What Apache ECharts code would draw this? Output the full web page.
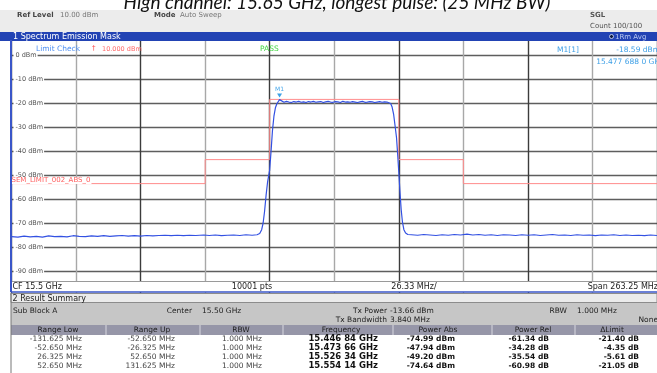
<!DOCTYPE html>
<html>
<head>
<meta charset="utf-8">
<script src="https://cdn.jsdelivr.net/npm/echarts@6/dist/echarts.min.js"></script>
<style>
  html, body { margin: 0; padding: 0; background: #fff; }
  #chart { width: 657px; height: 373px; }
</style>
</head>
<body>
<div id="chart"></div>
<script>
// Spectrum emission mask measurement: trace, limit mask and result summary.
const centerGHz = 15.5;
const spanMHz = 263.25;

// Measured trace, frequency offset from centre [MHz, dBm]
const traceLowerNoise = [
  [-131.6,-75.7],[-129,-75.9],[-126.5,-75.5],[-124,-75.8],[-121.5,-75.6],[-119,-75.9],
  [-116.5,-75.4],[-114,-75.7],[-111.5,-75.6],[-109,-75.8],[-106.5,-75.3],[-104,-75.6],
  [-101.5,-75.7],[-99,-75.4],[-96.5,-75.6],[-94,-75.3],[-91.5,-75.6],[-89,-75.4],
  [-86.5,-75.2],[-84,-75.5],[-81.5,-75.3],[-79,-75.5],[-76.5,-75.2],[-74,-75.4],
  [-71.5,-75.2],[-69,-75.1],[-66.5,-75.3],[-64,-75.1],[-61.5,-75.3],[-59,-75.1],
  [-56.5,-75.2],[-53.16,-74.99],[-51,-75.2],[-48.5,-75.0],[-46,-75.3],[-43.5,-75.1],
  [-41,-75.0],[-38.5,-75.2],[-36,-74.9],[-33.5,-75.1],[-31.5,-74.9],[-30.4,-74.4]
];
const traceCarrier = [
  [-29.6,-72.8],[-29.0,-70.0],[-28.4,-65.0],[-27.8,-58.5],[-27.2,-53.0],[-26.34,-47.94],
  [-25.8,-40.5],[-25.2,-31.5],[-24.6,-25.5],[-24.0,-22.0],[-23.4,-20.3],[-22.9,-19.6],
  [-22.31,-18.59],
  [-21.5,-19.4],[-20.5,-19.7],[-19.5,-19.3],[-18.5,-19.6],[-17.5,-19.8],[-16.5,-19.4],
  [-15.5,-19.6],[-14.5,-19.3],[-13.5,-19.7],[-12.5,-19.5],[-11.5,-19.8],[-10.5,-19.4],
  [-9.5,-19.6],[-8.5,-19.3],[-7.5,-19.7],[-6.5,-19.5],[-5.5,-19.4],[-4.5,-19.8],
  [-3.5,-19.5],[-2.5,-19.3],[-1.5,-19.6],[-0.5,-19.7],[0.5,-19.4],[1.5,-19.5],
  [2.5,-19.8],[3.5,-19.3],[4.5,-19.6],[5.5,-19.5],[6.5,-19.7],[7.5,-19.4],
  [8.5,-19.6],[9.5,-19.8],[10.5,-19.5],[11.5,-19.3],[12.5,-19.7],[13.5,-19.6],
  [14.5,-19.4],[15.5,-19.5],[16.5,-19.8],[17.5,-19.6],[18.5,-19.4],[19.5,-19.7],
  [20.5,-19.5],[21.5,-19.6],[22.3,-19.8],
  [23.0,-20.2],[23.6,-21.7],[24.2,-24.6],[24.8,-29.5],[25.4,-34.5],[25.9,-42.0],
  [26.34,-49.20],[26.8,-57.0],[27.3,-64.5],[27.8,-69.5],[28.4,-72.8],[29.1,-74.2],
  [30.0,-74.8]
];
const traceUpperNoise = [
  [31.5,-74.9],[34,-75.1],[36.5,-74.8],[39,-75.0],[41.5,-75.2],[44,-74.9],
  [46.5,-75.1],[49,-74.8],[51.5,-75.0],[54.14,-74.64],[56.5,-75.0],[59,-74.8],
  [61.5,-75.1],[64,-74.9],[66.5,-75.2],[69,-74.9],[71.5,-75.0],[74,-75.2],
  [76.5,-74.9],[79,-75.1],[81.5,-74.9],[84,-75.2],[86.5,-75.0],[89,-74.8],
  [91.5,-75.1],[94,-75.0],[96.5,-75.2],[99,-74.9],[101.5,-75.1],[104,-75.0],
  [106.5,-75.3],[109,-75.0],[111.5,-75.1],[114,-74.9],[116.5,-75.2],[119,-75.0],
  [121.5,-75.2],[124,-75.1],[126.5,-75.3],[129,-75.0],[131.6,-75.2]
];

// Limit mask (SEM_LIMIT_002_ABS_0)
const limitMHz = [-131.625, -52.65, -52.65, -26.325, -26.325, 26.325, 26.325, 52.65, 52.65, 131.625];
const limitDbm = [-53.59, -53.59, -43.59, -43.59, -18.5, -18.5, -43.59, -43.59, -53.59, -53.59];

// Marker M1
const markerGHz = 15.477688;
const markerDbm = -18.59;

// Result summary
const rangeLowMHz = [-131.625, -52.650, 26.325, 52.650];
const rangeUpMHz = [-52.650, -26.325, 52.650, 131.625];
const rbwMHz = [1.000, 1.000, 1.000, 1.000];
const peakGHz = [15.44684, 15.47366, 15.52634, 15.55414];
const powerAbsDbm = [-74.99, -47.94, -49.20, -74.64];
const powerRelDb = [-61.34, -34.28, -35.54, -60.98];
const deltaLimitDb = [-21.40, -4.35, -5.61, -21.05];
const summaryHeads = ['Range Low', 'Range Up', 'RBW', 'Frequency', 'Power Abs', 'Power Rel', '\u0394Limit'];

const UI = '"DejaVu Sans", Verdana, sans-serif';
const trace = traceLowerNoise.concat(traceCarrier, traceUpperNoise);
const limit = limitMHz.map((f, i) => [f, limitDbm[i]]);
const markerMHz = (markerGHz - centerGHz) * 1000;
const halfSpan = spanMHz / 2;
const divMHz = spanMHz / 10;

function fmtGHz(v, digits) {
  const s = v.toFixed(digits);
  const head = s.slice(0, 6);
  const rest = s.slice(6);
  const groups = [];
  for (let i = 0; i < rest.length; i += 3) groups.push(rest.slice(i, i + 3));
  return [head].concat(groups).join(' ') + ' GHz';
}
// round half up (26.325 -> 26.33)
function fix2(v) { return (Math.round(v * 100 + 1e-6) / 100).toFixed(2); }

function T(x, y, text, st) {
  return {
    type: 'text', x: x, y: y, z: 100, silent: true,
    style: Object.assign({ text: text, font: '7px ' + UI, fill: '#333', align: 'left', verticalAlign: 'middle' }, st || {})
  };
}
function R(x, y, w, h, fill, stroke, lw) {
  return {
    type: 'rect', z: 99, silent: true, shape: { x: x, y: y, width: w, height: h },
    style: { fill: fill, stroke: stroke || null, lineWidth: lw || 1 }
  };
}
function L(x1, y1, x2, y2, stroke, lw) {
  return {
    type: 'line', z: 101, silent: true, shape: { x1: x1, y1: y1, x2: x2, y2: y2 },
    style: { stroke: stroke, lineWidth: lw || 1 }
  };
}

const g = [];
// Title
g.push(T(337, 2.5, 'High channel: 15.65 GHz, longest pulse: (25 MHz BW)',
  { font: 'italic 19px Lato, "Liberation Sans", sans-serif', fill: '#111', align: 'center' }));
// Instrument header
g.push(R(0, 10, 657, 22.5, '#ececec'));
g.push(T(17, 15, 'Ref Level', { font: 'bold 7px ' + UI, fill: '#444' }));
g.push(T(60, 15, '10.00 dBm', { fill: '#777' }));
g.push(T(154, 15, 'Mode', { font: 'bold 7px ' + UI, fill: '#444' }));
g.push(T(180, 15, 'Auto Sweep', { fill: '#777' }));
g.push(T(590, 15, 'SGL', { font: 'bold 7px ' + UI, fill: '#555' }));
g.push(T(590, 26.5, 'Count 100/100', { fill: '#555' }));
// Window title bar
g.push(R(0, 32, 657, 9, '#2243b4'));
g.push(T(13, 36.8, '1 Spectrum Emission Mask', { font: '8px ' + UI, fill: '#fff' }));
g.push({ type: 'circle', z: 101, silent: true, shape: { cx: 611.5, cy: 36.5, r: 2 }, style: { fill: '#0a1840', stroke: '#dde6ff', lineWidth: 0.8 } });
g.push(T(615, 36.8, '1Rm Avg', { fill: '#b8c8f0' }));
// Limit check, pass flag, marker readout
g.push(T(36, 49, 'Limit Check', { font: '7.5px ' + UI, fill: '#4d8ff2' }));
g.push(T(92, 48.5, '\u2020', { font: '7px ' + UI, fill: '#ff4a4a' }));
g.push(T(102, 49, '10.000 dBm', { font: '6.5px ' + UI, fill: '#ff6a6a' }));
g.push(T(260, 49, 'PASS', { font: '7.5px ' + UI, fill: '#3ed63e' }));
g.push(T(557, 50.5, 'M1[1]', { font: '7.5px ' + UI, fill: '#3d9fe6' }));
g.push(T(660, 50.5, markerDbm.toFixed(2) + ' dBm', { font: '7.5px ' + UI, fill: '#3d9fe6', align: 'right' }));
g.push(T(664, 62.5, fmtGHz(markerGHz, 7), { font: '7.5px ' + UI, fill: '#3d9fe6', align: 'right' }));
// Limit line name
g.push(T(11.5, 180.5, 'SEM_LIMIT_002_ABS_0', { font: '7px ' + UI, fill: '#ff6060', backgroundColor: '#fff', padding: [0, 1, 0, 0] }));
// Footer of the diagram
g.push(R(11, 282, 646, 10, '#fff'));
g.push(L(11, 281.5, 657, 281.5, '#9a9a9a', 1));
g.push(L(11, 292, 657, 292, '#3a56c8', 1.5));
g.push(L(11, 40, 11, 292, '#3a56c8', 2));
g.push(T(12.5, 287, 'CF ' + centerGHz.toFixed(1) + ' GHz', { font: '8px ' + UI, fill: '#222' }));
g.push(T(252, 287, '10001 pts', { font: '8px ' + UI, fill: '#222', align: 'center' }));
g.push(T(414, 287, fix2(divMHz) + ' MHz/', { font: '8px ' + UI, fill: '#222', align: 'center' }));
g.push(T(658, 287, 'Span ' + fix2(spanMHz) + ' MHz', { font: '8px ' + UI, fill: '#222', align: 'right' }));
// Result summary
g.push(R(11, 293, 646, 80, '#fff'));
g.push(R(11, 293.5, 646, 9, '#ebebeb', '#8c8c8c', 1));
g.push(T(12.5, 298.5, '2 Result Summary', { font: '8px ' + UI, fill: '#222' }));
g.push(R(11, 303, 646, 22, '#c6c6c6'));
g.push(T(13, 311, 'Sub Block A', { font: '7.5px ' + UI, fill: '#222' }));
g.push(T(192, 311, 'Center', { font: '7.5px ' + UI, fill: '#222', align: 'right' }));
g.push(T(202, 311, centerGHz.toFixed(2) + ' GHz', { font: '7.5px ' + UI, fill: '#222' }));
g.push(T(387, 311, 'Tx Power', { font: '7.5px ' + UI, fill: '#222', align: 'right' }));
g.push(T(390, 311, '-13.66 dBm', { font: '7.5px ' + UI, fill: '#222' }));
g.push(T(387, 320, 'Tx Bandwidth', { font: '7.5px ' + UI, fill: '#222', align: 'right' }));
g.push(T(390, 320, '3.840 MHz', { font: '7.5px ' + UI, fill: '#222' }));
g.push(T(567, 311, 'RBW', { font: '7.5px ' + UI, fill: '#222', align: 'right' }));
g.push(T(577, 311, '1.000 MHz', { font: '7.5px ' + UI, fill: '#222' }));
g.push(T(658, 320, 'None', { font: '7.5px ' + UI, fill: '#222', align: 'right' }));
g.push(R(11, 325, 646, 10, '#9696a8'));
const headCenters = [58, 152, 241, 341, 438, 533, 612];
const headSeps = [106, 200, 283, 393, 492, 575];
summaryHeads.forEach((h, i) => g.push(T(headCenters[i], 330, h, { font: '7.5px ' + UI, fill: '#1e1e1e', align: 'center' })));
headSeps.forEach(x => g.push(L(x, 325, x, 335, '#d8d8e0', 1)));
g.push(L(11, 293, 11, 373, '#777', 1));
const rowY = [339, 348, 357, 366];
const plain = { font: '7.5px ' + UI, fill: '#444', align: 'right' };
const bold = { font: 'bold 7.5px ' + UI, fill: '#111', align: 'right' };
rowY.forEach((y, i) => {
  g.push(T(82, y, rangeLowMHz[i].toFixed(3) + ' MHz', plain));
  g.push(T(175, y, rangeUpMHz[i].toFixed(3) + ' MHz', plain));
  g.push(T(262, y, rbwMHz[i].toFixed(3) + ' MHz', plain));
  g.push(T(378, y, fmtGHz(peakGHz[i], 5), { font: 'bold 8.5px ' + UI, fill: '#111', align: 'right' }));
  g.push(T(455, y, powerAbsDbm[i].toFixed(2) + ' dBm', bold));
  g.push(T(549, y, powerRelDb[i].toFixed(2) + ' dB', bold));
  g.push(T(639, y, deltaLimitDb[i].toFixed(2) + ' dB', bold));
});

const chart = echarts.init(document.getElementById('chart'), null, { renderer: 'canvas' });
chart.setOption({
  animation: false,
  backgroundColor: '#fff',
  grid: { left: 11.5, top: 31, width: 650, height: 264, containLabel: false },
  xAxis: {
    type: 'value', min: -halfSpan, max: halfSpan, interval: divMHz,
    axisLine: { show: false }, axisTick: { show: false }, axisLabel: { show: false },
    splitLine: { show: true, lineStyle: { color: ['#3c3c3c', '#a8a8a8'], width: 1.4 } }
  },
  yAxis: {
    type: 'value', min: -100, max: 10, interval: 10,
    axisLine: { show: false }, axisTick: { show: false },
    axisLabel: {
      inside: true, margin: 2, fontSize: 6.5, fontFamily: UI, color: '#555',
      backgroundColor: '#fff', padding: [0, 1, 0, 2],
      formatter: v => (v <= 0 && v >= -90) ? v + ' dBm' : ''
    },
    splitLine: { show: true, lineStyle: { color: '#5e5e5e', width: 1.4 } }
  },
  series: [
    {
      name: 'Limit', type: 'line', data: limit, showSymbol: false, silent: true, z: 3,
      lineStyle: { color: '#ff8c8c', width: 1 }
    },
    {
      name: '1Rm Avg', type: 'line', data: trace, showSymbol: false, silent: true, z: 4,
      lineStyle: { color: '#3351e2', width: 1.2 },
      markPoint: {
        silent: true,
        symbol: 'triangle', symbolRotate: 180, symbolSize: [5, 4], symbolOffset: [0, -4],
        itemStyle: { color: '#3aa0e6' },
        label: { show: true, position: 'top', distance: 1, formatter: 'M1', fontSize: 6, fontFamily: UI, color: '#4aa8ea' },
        data: [{ coord: [markerMHz, markerDbm] }]
      }
    }
  ],
  graphic: { elements: g }
});
</script>
</body>
</html>
